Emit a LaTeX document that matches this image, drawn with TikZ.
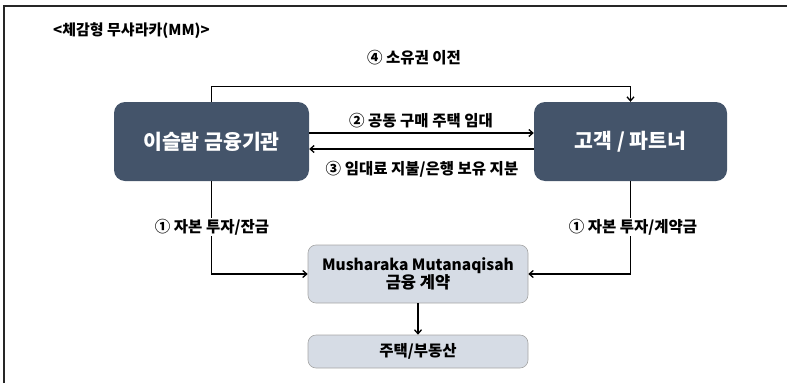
\documentclass[tikz,border=0pt]{standalone}
\usepackage{fontspec}
\setmainfont{Noto Sans CJK KR}
\usetikzlibrary{arrows.meta}
\definecolor{darkbox}{HTML}{44546A}
\definecolor{lightbox}{HTML}{D6DCE5}
\definecolor{lightedge}{HTML}{A6A6A6}
\begin{document}
\begin{tikzpicture}[x=1pt,y=-1pt,
  darknode/.style={draw=none, fill=darkbox, rounded corners=11pt, text=white,
    font=\bfseries\fontsize{20.5}{24}\selectfont, minimum width=195pt, minimum height=79pt},
  lightnode/.style={draw=lightedge, line width=0.6pt, fill=lightbox, rounded corners=8pt,
    font=\bfseries\fontsize{15.5}{17.5}\selectfont, align=center, minimum width=220pt},
  lbl/.style={font=\bfseries\fontsize{15.5}{18}\selectfont, inner sep=1pt},
  arr/.style={-{Straight Barb[length=4pt,width=7pt]}, line width=1.3pt}]
\useasboundingbox (0,0) rectangle (787,383);
\draw[line width=1.5pt, draw=black!85] (4,383) -- (4,6) -- (787,6);
\node[font=\bfseries\fontsize{15}{17}\selectfont, anchor=west, inner sep=0pt] (title) at (53,31) {<체감형 무샤라카(MM)>};
\node[darknode] (fi) at (211.5,141.5) {이슬람 금융기관};
\node[darknode, minimum width=193pt] (cu) at (630.5,141.5) {고객 / 파트너};
\node[lightnode, minimum height=58pt] (mm) at (418,274) {Musharaka Mutanaqisah\\{\fontsize{16.5}{17.5}\selectfont 금융 계약}};
\node[lightnode, minimum height=33pt] (hs) at (418,351.5) {주택/부동산};
% 4
\draw[arr] (fi.north) -- ++(0,-15) -| (cu.north);
\node[lbl] (l4) at (414,58) {④ 소유권 이전};
% 2 and 3
\draw[arr] ([yshift=8.5pt]fi.east) -- ([yshift=8.5pt]cu.west);
\draw[arr] ([yshift=-7.5pt]cu.west) -- ([yshift=-7.5pt]fi.east);
\node[lbl] (l2) at (421,121) {② 공동 구매 주택 임대};
\node[lbl] (l3) at (422,169) {③ 임대료 지불/은행 보유 지분};
% 1
\draw[arr] (fi.south) |- (mm.west);
\draw[arr] (cu.south) |- (mm.east);
\node[lbl, fill=white] (l1a) at (212,227) {① 자본 투자/잔금};
\node[lbl, fill=white] (l1b) at (633,227) {① 자본 투자/계약금};
\draw[arr] (mm.south) -- (hs.north);
\end{tikzpicture}
\end{document}
